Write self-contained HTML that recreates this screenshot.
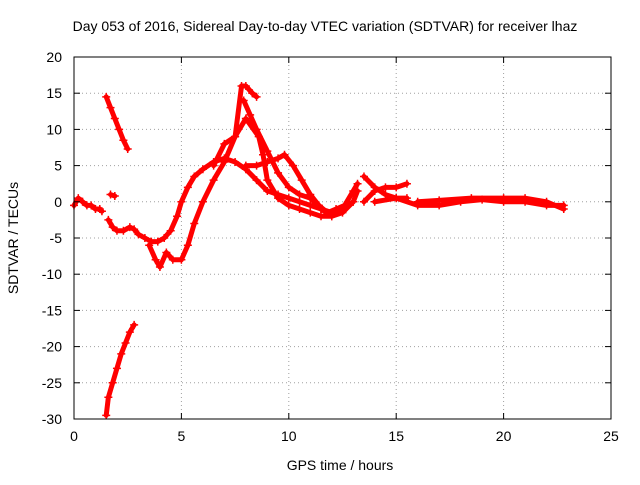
<!DOCTYPE html>
<html><head><meta charset="utf-8"><style>
body{margin:0;background:#fff;}
svg text{font-family:"Liberation Sans",sans-serif;font-size:14px;fill:#000;}
</style></head><body>
<svg id="chart" width="640" height="480" viewBox="0 0 640 480">
<rect width="640" height="480" fill="#fff"/>
<text x="325" y="31" text-anchor="middle">Day 053 of 2016, Sidereal Day-to-day VTEC variation (SDTVAR) for receiver lhaz</text>
<text x="340" y="470" text-anchor="middle">GPS time / hours</text>
<text transform="translate(18,238) rotate(-90)" text-anchor="middle">SDTVAR / TECUs</text>
<g id="grid"></g><g id="marks"></g><g id="axes"></g>
</svg>
<script>
const xTicks=[0,5,10,15,20,25];
const yTicks=[20,15,10,5,0,-5,-10,-15,-20,-25,-30];
const trackA_t=[0,0.2,0.4,0.6,0.8,1.0,1.2,1.3];
const trackA_v=[-0.5,0.5,0,-0.5,-0.5,-1,-1,-1.3];
const trackB_t=[1.5,1.7,1.9,2.1,2.3,2.5];
const trackB_v=[14.5,13,11.5,10,8.5,7.3];
const trackC_t=[1.5,1.6,1.8,2.0,2.2,2.4,2.6,2.8];
const trackC_v=[-29.5,-27,-25,-23,-21,-19.5,-18,-17];
const trackK_t=[1.7,1.9];
const trackK_v=[1,0.8];
const trackD_t=[1.6,1.8,2.0,2.3,2.6,2.8,3.0,3.3,3.6,3.9,4.2,4.5,4.8,5.0,5.3,5.6,6.0,6.5,7.0,7.5,8.0,8.5,9.0,9.5,10,10.5,11,11.5,12,12.5,13,13.2];
const trackD_v=[-2.5,-3.5,-4,-4,-3.5,-3.8,-4.5,-5,-5.5,-5.5,-5,-4,-2,0,2,3.5,4.5,5.5,6,5.5,4.5,3,1.5,1,0.5,0,-0.5,-1,-1.5,-1,0,1.5];
const trackE_t=[3.5,3.8,4.0,4.3,4.6,5.0,5.3,5.6,6.0,6.5,7.0,7.5,7.8,8.0,8.3,8.5];
const trackE_v=[-6,-8,-9,-7,-8,-8,-6,-3,0,3,5.5,9,16,16,15,14.5];
const trackF_t=[7.9,8.2,8.5,9.0,9.5,10,10.5,11,11.5,12,12.5,13];
const trackF_v=[14,12,10,7,4,2,1,0.5,-1,-2,-1.5,0];
const trackG_t=[6.5,7,7.5,8,8.6,8.8,9,9.5,10,10.5,11,11.5,12];
const trackG_v=[5,8,9,11.5,9,6.5,3,0.5,-0.5,-1,-1.5,-2,-2];
const trackH_t=[8,8.5,9,9.5,9.8,10.2,10.6,11,11.4,11.8,12.2,12.6,13,13.2];
const trackH_v=[5,5,5.5,6,6.5,5,3,1,-0.5,-1.5,-1,-0.5,1.5,2.5];
const trackI_t=[13.5,14,14.5,15,15.5];
const trackI_v=[3.5,2,1,0.5,0.5];
const trackL_t=[13.5,14,14.5,15,15.5];
const trackL_v=[0,1.5,2,2,2.5];
const trackM_t=[14,15,16,17,18,19,20,21,22,22.8];
const trackM_v=[0,0.5,-0.5,-0.5,0,0.3,0,0,-0.5,-0.5];
const trackN_t=[16,17,18.5,20,21,22,22.8];
const trackN_v=[0,0.2,0.5,0.5,0.5,0,-1];
const tracks=[[trackA_t,trackA_v],[trackB_t,trackB_v],[trackC_t,trackC_v],[trackK_t,trackK_v],[trackD_t,trackD_v],[trackE_t,trackE_v],[trackF_t,trackF_v],[trackG_t,trackG_v],[trackH_t,trackH_v],[trackI_t,trackI_v],[trackL_t,trackL_v],[trackM_t,trackM_v],[trackN_t,trackN_v]];
const L=74,R=611,T=57,B=419;
function X(t){return L+(t-0)/(25-0)*(R-L);}
function Y(v){return T+(20-v)/(50)*(B-T);}
const NS="http://www.w3.org/2000/svg";
function mk(tag,attrs,parent){const e=document.createElementNS(NS,tag);for(const k in attrs)e.setAttribute(k,attrs[k]);parent.appendChild(e);return e;}
const grid=document.getElementById('grid'),axes=document.getElementById('axes'),marks=document.getElementById('marks');
mk('rect',{x:L,y:T,width:R-L,height:B-T,fill:'none',stroke:'#000','stroke-width':1},axes);
xTicks.forEach(t=>{const x=X(t);
 if(t>0&&t<25){const g=mk('line',{x1:x,x2:x,y1:T,y2:B,stroke:'#a0a0a0','stroke-dasharray':'1,3'},grid);}
 mk('line',{x1:x,x2:x,y1:B,y2:B-6,stroke:'#000'},axes);mk('line',{x1:x,x2:x,y1:T,y2:T+6,stroke:'#000'},axes);
 const tx=mk('text',{x:x,y:B+22,'text-anchor':'middle'},axes);tx.textContent=t;
 });
yTicks.forEach(v=>{const y=Y(v);
 if(v<20&&v>-30){const g=mk('line',{x1:L,x2:R,y1:y,y2:y,stroke:'#a0a0a0','stroke-dasharray':'1,3'},grid);}
 mk('line',{x1:L,x2:L+6,y1:y,y2:y,stroke:'#000'},axes);mk('line',{x1:R,x2:R-6,y1:y,y2:y,stroke:'#000'},axes);
 const tx=mk('text',{x:L-12,y:y+5,'text-anchor':'end'},axes);tx.textContent=v;
 });
tracks.forEach(([ts,vs])=>{
 const pts=ts.map((t,i)=>X(t)+','+Y(vs[i])).join(' ');
 const pl=mk('polyline',{points:pts,fill:'none',stroke:'#ff0000','stroke-width':5,'stroke-linejoin':'round','stroke-linecap':'round'},marks);
 
 
 ts.forEach((t,i)=>{const x=X(t),y=Y(vs[i]);
  const p=mk('path',{d:`M${x-4},${y}H${x+4}M${x},${y-4}V${y+4}`,stroke:'#ff0000','stroke-width':1.5},marks);
  
  });
});
</script>
</body></html>
